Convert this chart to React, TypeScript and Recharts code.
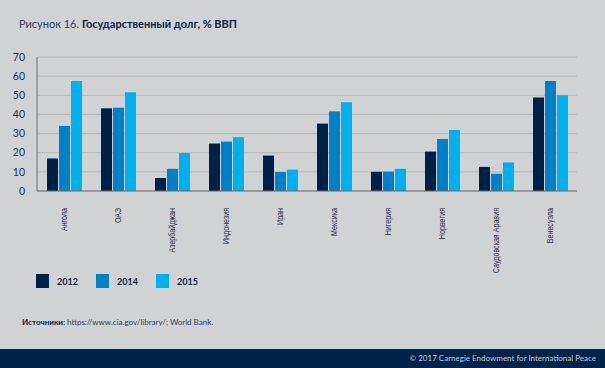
import React from 'react'
import { BarChart, Bar, XAxis, YAxis, CartesianGrid } from 'recharts'

// Государственный долг, % ВВП
const countries = [
  'Ангола',
  'ОАЭ',
  'Азербайджан',
  'Индонезия',
  'Иран',
  'Мексика',
  'Нигерия',
  'Норвегия',
  'Саудовская Аравия',
  'Венесуэла',
]
const debt2012 = [17, 43.2, 6.8, 24.8, 18.5, 35.2, 10, 20.6, 12.6, 48.9]
const debt2014 = [34, 43.5, 11.6, 25.8, 9.9, 41.6, 10.1, 27.2, 9, 57.4]
const debt2015 = [57.4, 51.6, 19.8, 28.1, 11.2, 46.4, 11.6, 31.9, 14.9, 50]
const yTicks = [0, 10, 20, 30, 40, 50, 60, 70]

const series = [
  { key: 'y2012', label: '2012', color: '#002147' },
  { key: 'y2014', label: '2014', color: '#0080c6' },
  { key: 'y2015', label: '2015', color: '#00b0ed' },
]

const data = countries.map((name, i) => ({
  name,
  y2012: debt2012[i],
  y2014: debt2014[i],
  y2015: debt2015[i],
}))

const navy = '#1b2f4b'

// rotated country label, squeezed a little to look like the condensed original
function CountryTick({ x, y, payload }: any) {
  const ty = y + 9
  return (
    <text
      x={0}
      y={0}
      transform={`translate(${x}, ${ty}) rotate(-90) scale(0.84, 1)`}
      textAnchor="end"
      dy="0.35em"
      fontSize={8.5}
      fontFamily="'Liberation Sans', Arial, sans-serif"
      fill={navy}
    >
      {payload.value}
    </text>
  )
}

export default function App() {
  return (
    <div
      style={{
        position: 'absolute',
        left: 0,
        top: 0,
        width: 605,
        height: 368,
        background: '#d1d2d4',
        overflow: 'hidden',
        fontFamily: 'Lato, sans-serif',
      }}
    >
      <div
        style={{
          position: 'absolute',
          left: 19,
          top: 17,
          fontSize: 11,
          color: '#2a3f5c',
          whiteSpace: 'nowrap',
        }}
      >
        Рисунок 16. <b style={{ color: '#0d2240' }}>Государственный долг, % ВВП</b>
      </div>

      <BarChart
        width={605}
        height={290}
        data={data}
        margin={{ top: 57, right: 28, bottom: 0, left: 0 }}
        barCategoryGap={10}
        barGap={1}
      >
        <CartesianGrid vertical={false} stroke="#b7b8ba" strokeWidth={1} />
        <YAxis
          width={37}
          domain={[0, 70]}
          ticks={yTicks}
          interval={0}
          axisLine={{ stroke: '#6d6e70' }}
          tickLine={false}
          tickMargin={6}
          tick={{ fontSize: 10.5, fill: navy, fontFamily: 'Lato, sans-serif' }}
        />
        <XAxis
          dataKey="name"
          interval={0}
          height={99}
          axisLine={{ stroke: '#6d6e70' }}
          tickLine={false}
          tick={<CountryTick />}
        />
        {series.map((s) => (
          <Bar
            key={s.key}
            dataKey={s.key}
            fill={s.color}
            barSize={11}
            isAnimationActive={false}
          />
        ))}
      </BarChart>

      <div style={{ position: 'absolute', left: 36, top: 274, display: 'flex' }}>
        {series.map((s) => (
          <div
            key={s.key}
            style={{ display: 'flex', alignItems: 'center', width: 60 }}
          >
            <div style={{ width: 13, height: 14, background: s.color }} />
            <span
              style={{
                marginLeft: 8,
                fontSize: 9,
                fontWeight: 700,
                color: '#0d2240',
              }}
            >
              {s.label}
            </span>
          </div>
        ))}
      </div>

      <div
        style={{
          position: 'absolute',
          left: 22,
          top: 317,
          fontSize: 8,
          color: '#2a3f5c',
          whiteSpace: 'nowrap',
        }}
      >
        <b style={{ color: '#0d2240' }}>Источники:</b> https://www.cia.gov/library/; World Bank.
      </div>

      <div
        style={{
          position: 'absolute',
          left: 0,
          top: 349,
          width: 605,
          height: 19,
          background: '#00234a',
        }}
      >
        <div
          style={{
            position: 'absolute',
            right: 9,
            top: 4,
            fontSize: 8,
            color: '#c9cdd4',
            whiteSpace: 'nowrap',
          }}
        >
          © 2017 Carnegie Endowment for International Peace
        </div>
      </div>
    </div>
  )
}
